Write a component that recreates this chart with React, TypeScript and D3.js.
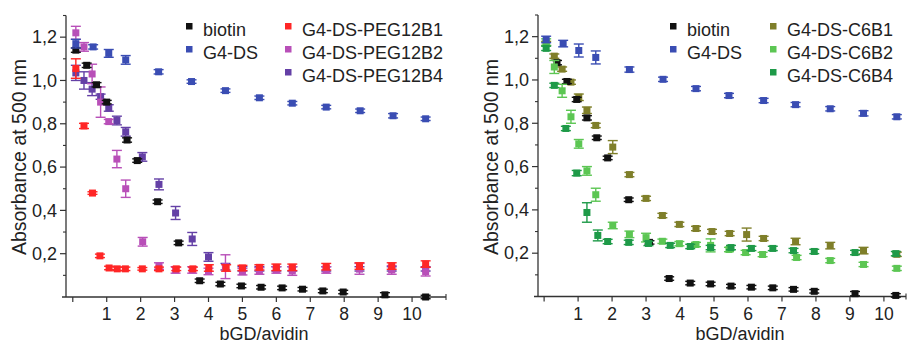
import * as d3 from "d3";

// ---- left panel (PEG12 linkers) ----
const biotinLx = [0.09, 0.41, 0.7, 1.0, 1.6, 1.9, 2.5, 3.12, 3.74, 4.35, 4.97, 5.55, 6.17, 6.77, 7.37, 7.97, 9.2, 10.4];
const biotinLy = [1.14, 1.07, 0.98, 0.9, 0.725, 0.63, 0.44, 0.25, 0.075, 0.06, 0.051, 0.045, 0.042, 0.036, 0.028, 0.023, 0.01, 0.0];
const biotinLe = [0.01, 0.01, 0.01, 0.008, 0.01, 0.008, 0.008, 0.008, 0.008, 0.008, 0.008, 0.008, 0.008, 0.008, 0.008, 0.008, 0.01, 0.008];

const g4dsLx = [0.09, 0.6, 1.06, 1.56, 2.53, 3.5, 4.5, 5.5, 6.47, 7.47, 8.47, 9.44, 10.4];
const g4dsLy = [1.17, 1.155, 1.125, 1.095, 1.04, 0.995, 0.953, 0.92, 0.895, 0.877, 0.86, 0.837, 0.823];
const g4dsLe = [0.02, 0.01, 0.018, 0.02, 0.01, 0.008, 0.008, 0.008, 0.008, 0.008, 0.008, 0.01, 0.008];

const peg1x = [0.09, 0.33, 0.58, 0.8, 1.07, 1.31, 1.55, 2.05, 2.54, 3.05, 3.54, 4.01, 4.52, 5.0, 5.5, 6.0, 6.47, 7.47, 8.45, 9.4, 10.4];
const peg1y = [1.055, 0.79, 0.48, 0.19, 0.134, 0.13, 0.13, 0.13, 0.13, 0.13, 0.13, 0.134, 0.134, 0.134, 0.137, 0.137, 0.137, 0.14, 0.143, 0.143, 0.152];
const peg1e = [0.045, 0.012, 0.006, 0.008, 0.008, 0.008, 0.008, 0.006, 0.008, 0.008, 0.008, 0.015, 0.015, 0.012, 0.012, 0.015, 0.015, 0.015, 0.015, 0.015, 0.015];

const peg2x = [0.09, 0.33, 0.57, 0.82, 1.06, 1.3, 1.56, 2.06, 2.54, 3.03, 3.52, 4.0, 4.5, 5.0, 5.5, 6.0, 6.47, 7.47, 8.45, 9.4, 10.4];
const peg2y = [1.22, 1.155, 1.03, 0.9, 0.81, 0.637, 0.5, 0.255, 0.143, 0.125, 0.125, 0.118, 0.14, 0.117, 0.12, 0.125, 0.12, 0.125, 0.13, 0.125, 0.117];
const peg2e = [0.03, 0.02, 0.045, 0.07, 0.01, 0.04, 0.04, 0.02, 0.015, 0.015, 0.015, 0.015, 0.055, 0.015, 0.015, 0.015, 0.02, 0.015, 0.025, 0.02, 0.02];

const peg4x = [0.09, 0.33, 0.57, 0.82, 1.06, 1.3, 1.56, 2.05, 2.54, 3.03, 3.52, 4.0, 4.5, 5.0, 5.5, 6.0, 6.47, 7.47, 8.45, 9.4, 10.4];
const peg4y = [1.035, 1.0, 0.96, 0.925, 0.873, 0.815, 0.763, 0.647, 0.52, 0.388, 0.268, 0.185, 0.14, 0.13, 0.13, 0.13, 0.13, 0.13, 0.13, 0.13, 0.13];
const peg4e = [0.035, 0.04, 0.03, 0.012, 0.015, 0.02, 0.02, 0.02, 0.025, 0.03, 0.03, 0.02, 0.015, 0.01, 0.01, 0.01, 0.01, 0.01, 0.01, 0.01, 0.01];

// ---- right panel (C6 linkers) ----
const biotinRx = [0.38, 0.67, 0.96, 1.26, 1.55, 1.87, 2.49, 3.1, 3.68, 4.3, 4.9, 5.5, 6.1, 6.73, 7.34, 7.95, 9.15, 10.35];
const biotinRy = [1.08, 0.993, 0.91, 0.825, 0.733, 0.64, 0.447, 0.25, 0.083, 0.062, 0.058, 0.048, 0.043, 0.04, 0.033, 0.024, 0.013, 0.005];
const biotinRe = [0.01, 0.01, 0.01, 0.01, 0.008, 0.008, 0.008, 0.008, 0.008, 0.008, 0.008, 0.008, 0.008, 0.008, 0.008, 0.008, 0.01, 0.008];

const g4dsRx = [0.06, 0.56, 1.02, 1.52, 2.51, 3.5, 4.47, 5.44, 6.46, 7.4, 8.42, 9.4, 10.38];
const g4dsRy = [1.187, 1.168, 1.136, 1.104, 1.048, 1.003, 0.96, 0.928, 0.905, 0.886, 0.867, 0.846, 0.83];
const g4dsRe = [0.015, 0.015, 0.03, 0.03, 0.012, 0.01, 0.01, 0.01, 0.01, 0.01, 0.01, 0.012, 0.01];

const c6b1x = [0.06, 0.3, 0.53, 0.79, 1.02, 1.26, 1.52, 2.02, 2.51, 3.0, 3.48, 3.98, 4.47, 4.94, 5.46, 5.96, 6.46, 7.4, 8.42, 9.4, 10.38];
const c6b1y = [1.168, 1.11, 1.05, 0.99, 0.92, 0.86, 0.79, 0.69, 0.563, 0.453, 0.374, 0.333, 0.314, 0.3, 0.291, 0.286, 0.268, 0.254, 0.235, 0.212, 0.195];
const c6b1e = [0.01, 0.01, 0.01, 0.01, 0.015, 0.015, 0.01, 0.03, 0.01, 0.01, 0.01, 0.01, 0.01, 0.01, 0.01, 0.03, 0.01, 0.015, 0.015, 0.015, 0.01];

const c6b2x = [0.06, 0.3, 0.53, 0.79, 1.02, 1.26, 1.52, 2.02, 2.51, 3.0, 3.48, 3.98, 4.47, 4.9, 5.44, 5.93, 6.43, 7.43, 8.42, 9.4, 10.38];
const c6b2y = [1.175, 1.06, 0.95, 0.83, 0.705, 0.58, 0.47, 0.328, 0.287, 0.272, 0.255, 0.244, 0.24, 0.236, 0.217, 0.203, 0.194, 0.18, 0.166, 0.148, 0.13];
const c6b2e = [0.015, 0.03, 0.03, 0.03, 0.02, 0.02, 0.03, 0.015, 0.015, 0.02, 0.01, 0.01, 0.01, 0.03, 0.01, 0.01, 0.01, 0.01, 0.01, 0.01, 0.01];

const c6b4x = [0.06, 0.3, 0.64, 0.96, 1.26, 1.58, 1.87, 2.49, 3.07, 3.71, 4.3, 4.9, 5.5, 6.1, 6.73, 7.34, 7.95, 9.15, 10.35];
const c6b4y = [1.146, 0.975, 0.776, 0.57, 0.388, 0.282, 0.254, 0.25, 0.245, 0.236, 0.231, 0.226, 0.226, 0.222, 0.222, 0.212, 0.208, 0.203, 0.198];
const c6b4e = [0.01, 0.01, 0.01, 0.012, 0.045, 0.025, 0.01, 0.01, 0.01, 0.01, 0.01, 0.01, 0.01, 0.01, 0.01, 0.01, 0.01, 0.01, 0.01];

const xTicks = [0, 1, 2, 3, 4, 5, 6, 7, 8, 9, 10];
const yTicks = [0.2, 0.4, 0.6, 0.8, 1.0, 1.2];
const yMinor = [0.1, 0.3, 0.5, 0.7, 0.9, 1.1, 1.3];

const FONT = "'Liberation Sans', Arial, sans-serif";

type Series = { name: string; color: string; x: number[]; y: number[]; e: number[] };

const leftSeries: Series[] = [
  { name: "G4-DS-PEG12B4", color: "#6440a6", x: peg4x, y: peg4y, e: peg4e },
  { name: "G4-DS-PEG12B2", color: "#b84fb8", x: peg2x, y: peg2y, e: peg2e },
  { name: "G4-DS-PEG12B1", color: "#ff2626", x: peg1x, y: peg1y, e: peg1e },
  { name: "biotin", color: "#111111", x: biotinLx, y: biotinLy, e: biotinLe },
  { name: "G4-DS", color: "#3a4db3", x: g4dsLx, y: g4dsLy, e: g4dsLe },
];

const rightSeries: Series[] = [
  { name: "G4-DS-C6B1", color: "#7f7f2a", x: c6b1x, y: c6b1y, e: c6b1e },
  { name: "biotin", color: "#111111", x: biotinRx, y: biotinRy, e: biotinRe },
  { name: "G4-DS-C6B2", color: "#5cc653", x: c6b2x, y: c6b2y, e: c6b2e },
  { name: "G4-DS-C6B4", color: "#1e9a48", x: c6b4x, y: c6b4y, e: c6b4e },
  { name: "G4-DS", color: "#3a4db3", x: g4dsRx, y: g4dsRy, e: g4dsRe },
];

type PanelProps = {
  series: Series[];
  legend: string[][];
  xRange: [number, number];
  xDomain: [number, number];
  yRange: [number, number];
  legendX: [number, number];
  titleX: number;
};

const Panel = ({ series, legend, xRange, xDomain, yRange, legendX, titleX }: PanelProps) => {
  const x = d3.scaleLinear().domain(xDomain).range(xRange);
  const y = d3.scaleLinear().domain([0, 1.3]).range(yRange);
  const x0 = xRange[0];
  const y0 = yRange[0];
  const colorOf = (n: string) => series.find((s) => s.name === n)!.color;

  return (
    <g fontFamily={FONT}>
      {/* axes */}
      <line x1={x0} x2={x0} y1={y0} y2={yRange[1]} stroke="#333" strokeWidth={1.3} />
      <line x1={x0 - 4} x2={xRange[1]} y1={y0} y2={y0} stroke="#333" strokeWidth={1.3} />
      {yTicks.map((t) => (
        <g key={t}>
          <line x1={x0 - 6} x2={x0} y1={y(t)} y2={y(t)} stroke="#333" strokeWidth={1.2} />
          <text x={x0 - 9} y={y(t)} dy="0.35em" textAnchor="end" fontSize={18} fill="#222">
            {d3.format(".1f")(t).replace(".", ",")}
          </text>
        </g>
      ))}
      {yMinor.map((t) => (
        <line key={t} x1={x0 - 3} x2={x0} y1={y(t)} y2={y(t)} stroke="#333" strokeWidth={1.1} />
      ))}
      {xTicks.map((t) => (
        <g key={t}>
          <line x1={x(t)} x2={x(t)} y1={y0} y2={y0 + 5} stroke="#333" strokeWidth={1.2} />
          {t > 0 && (
            <text x={x(t)} y={319.5} textAnchor="middle" fontSize={17.5} fill="#222">
              {t}
            </text>
          )}
        </g>
      ))}
      <line x1={xRange[1]} x2={xRange[1]} y1={y0 - 3} y2={y0 + 3} stroke="#333" strokeWidth={1.1} />
      <text x={titleX} y={340} textAnchor="middle" fontSize={18} fill="#222">
        bGD/avidin
      </text>
      <text
        transform={`translate(${x0 - 40},${157}) rotate(-90)`}
        textAnchor="middle"
        fontSize={19.5}
        fill="#222"
      >
        Absorbance at 500 nm
      </text>

      {/* data */}
      {series.map((s) => (
        <g key={s.name} stroke={s.color} fill={s.color} strokeWidth={1.4}>
          {s.x.map((xv, i) => {
            const cx = x(xv);
            const cy = y(s.y[i]);
            const top = y(s.y[i] + s.e[i]);
            const bot = y(s.y[i] - s.e[i]);
            return (
              <g key={i}>
                <line x1={cx} x2={cx} y1={top} y2={bot} />
                <line x1={cx - 5} x2={cx + 5} y1={top} y2={top} />
                <line x1={cx - 5} x2={cx + 5} y1={bot} y2={bot} />
                <rect x={cx - 3.5} y={cy - 3.5} width={7} height={7} stroke="none" />
              </g>
            );
          })}
        </g>
      ))}

      {/* legend */}
      {legend.map((col, ci) =>
        col.map((name, ri) => (
          <g key={name}>
            <rect x={legendX[ci] - 3} y={26 + ri * 23 - 3} width={6.5} height={6.5} fill={colorOf(name)} />
            <text x={legendX[ci] + 14} y={36 + ri * 23} fontSize={18} fill="#222">
              {name}
            </text>
          </g>
        ))
      )}
    </g>
  );
};

export default function App() {
  return (
    <svg
      width={908}
      height={344}
      style={{ position: "absolute", left: 0, top: 0, background: "#fff" }}
    >
      <rect width={908} height={344} fill="#fff" />
      <Panel
        series={leftSeries}
        legend={[["biotin", "G4-DS"], ["G4-DS-PEG12B1", "G4-DS-PEG12B2", "G4-DS-PEG12B4"]]}
        xRange={[66, 446]}
        xDomain={[-0.2, 11]}
        yRange={[297, 15.5]}
        legendX={[189, 288]}
        titleX={264}
      />
      <Panel
        series={rightSeries}
        legend={[["biotin", "G4-DS"], ["G4-DS-C6B1", "G4-DS-C6B2", "G4-DS-C6B4"]]}
        xRange={[538, 906]}
        xDomain={[-0.18, 10.65]}
        yRange={[296.5, 15]}
        legendX={[673, 773]}
        titleX={740}
      />
    </svg>
  );
}
